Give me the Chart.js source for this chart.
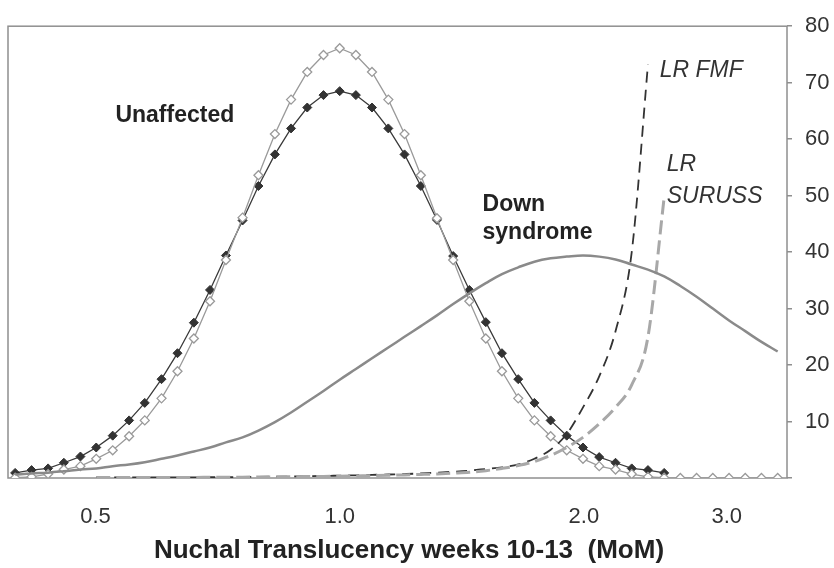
<!DOCTYPE html>
<html>
<head>
<meta charset="utf-8">
<title>Nuchal translucency distributions</title>
<script src="https://cdn.jsdelivr.net/npm/chart.js@4/dist/chart.umd.min.js"></script>
<style>
  html, body { margin: 0; padding: 0; background: #fff; }
  #wrap { width: 834px; height: 568px; }
</style>
</head>
<body>
<div id="wrap"><canvas id="ntChart" width="834" height="568"></canvas></div>
<script>
// NT in MoM, sampled every 0.02 on a log10 scale
const mom = [0.398, 0.417, 0.437, 0.457, 0.479, 0.501, 0.525, 0.550, 0.575, 0.603,
             0.631, 0.661, 0.692, 0.724, 0.759, 0.794, 0.832, 0.871, 0.912, 0.955,
             1.000, 1.047, 1.096, 1.148, 1.202, 1.259, 1.318, 1.380, 1.445, 1.514,
             1.585, 1.660, 1.738, 1.820, 1.905, 1.995, 2.089, 2.188, 2.291, 2.399,
             2.512, 2.630, 2.754, 2.884, 3.020, 3.162, 3.311, 3.467];

// unaffected pregnancies, filled diamonds (stops at 2.51 MoM)
const unaffectedFilled = [0.9, 1.4, 1.7, 2.7, 3.8, 5.4, 7.5, 10.2, 13.3, 17.5,
                          22.1, 27.5, 33.3, 39.4, 45.6, 51.7, 57.3, 61.9, 65.6, 67.8,
                          68.5, 67.8, 65.6, 61.9, 57.3, 51.7, 45.7, 39.3, 33.3, 27.6,
                          22.1, 17.5, 13.3, 10.2, 7.5, 5.4, 3.7, 2.7, 1.7, 1.4, 0.9];

// unaffected pregnancies, open diamonds
const unaffectedOpen = [0.05, 0.2, 0.7, 1.5, 2.1, 3.4, 4.9, 7.4, 10.2, 14.1,
                        18.9, 24.7, 31.3, 38.6, 46.1, 53.6, 60.9, 67.0, 71.9, 74.9,
                        76.1, 74.9, 71.9, 67.0, 60.9, 53.6, 46.0, 38.6, 31.3, 24.7,
                        18.9, 14.1, 10.2, 7.4, 4.9, 3.4, 2.1, 1.5, 0.7, 0.2,
                        0.05, 0, 0, 0, 0, 0, 0, 0];

// Down syndrome pregnancies
const downSyndrome = [0.6, 0.8, 0.95, 1.2, 1.5, 1.7, 2.1, 2.4, 2.8, 3.4,
                      4.0, 4.7, 5.4, 6.3, 7.2, 8.4, 9.9, 11.6, 13.5, 15.4,
                      17.4, 19.3, 21.2, 23.1, 25.0, 26.9, 28.8, 30.8, 32.7, 34.5,
                      36.1, 37.3, 38.3, 38.9, 39.2, 39.4, 39.2, 38.7, 37.8, 36.9,
                      35.7, 34.0, 32.1, 30.0, 27.9, 26.0, 24.1, 22.4];

// likelihood ratios, FMF and SURUSS parameters
const lrFmf = [null, null, null, null, null, 0.1, 0.1, 0.1, 0.1, 0.1,
               0.1, 0.12, 0.14, 0.16, 0.18, 0.2, 0.23, 0.27, 0.31, 0.36,
               0.42, 0.48, 0.55, 0.62, 0.7, 0.8, 0.95, 1.1, 1.3, 1.6,
               1.9, 2.4, 3.4, 5.0, 7.8, 12.5, 18.0, 26.0, 40.0, 73.2,
               null, null, null, null, null, null, null, null];
const lrSuruss = [null, null, null, null, null, 0.1, 0.1, 0.1, 0.1, 0.1,
                  0.1, 0.1, 0.12, 0.13, 0.15, 0.17, 0.19, 0.22, 0.25, 0.28,
                  0.32, 0.37, 0.42, 0.48, 0.55, 0.63, 0.72, 0.85, 1.0, 1.3,
                  1.7, 2.2, 2.9, 4.0, 5.4, 7.2, 9.6, 12.5, 16.5, 25.0,
                  49.7, null, null, null, null, null, null, null];

const xTicks = [0.5, 1.0, 2.0, 3.0];
const xTitle = 'Nuchal Translucency weeks 10-13  (MoM)';

const FONT = "'Liberation Sans', Arial, sans-serif";

// pair each value with its MoM, dropping empty slots
function points(values) {
  return mom.map((m, i) => ({ x: m, y: values[i] }))
            .filter(p => p.y !== null && p.y !== undefined);
}

// frame round the plot, the curve labels and the x axis title
const chartText = {
  id: 'chartText',
  beforeDatasetsDraw(chart) {
    const a = chart.chartArea;
    const ctx = chart.ctx;
    ctx.save();
    ctx.strokeStyle = '#8f8f8f';
    ctx.lineWidth = 1.5;
    ctx.strokeRect(a.left, a.top, a.right - a.left, a.bottom - a.top);
    ctx.restore();
  },
  afterDraw(chart) {
    const ctx = chart.ctx;
    const xs = chart.scales.x;
    const ys = chart.scales.y;
    const labels = [
      { text: 'Unaffected', x: 0.529, y: 64.1, style: 'bold' },
      { text: 'Down', x: 1.50, y: 48.4, style: 'bold' },
      { text: 'syndrome', x: 1.50, y: 43.4, style: 'bold' },
      { text: 'LR FMF', x: 2.48, y: 72.2, style: 'italic' },
      { text: 'LR', x: 2.53, y: 55.5, style: 'italic' },
      { text: 'SURUSS', x: 2.53, y: 49.8, style: 'italic' }
    ];
    ctx.save();
    ctx.textBaseline = 'middle';
    ctx.textAlign = 'left';
    labels.forEach(l => {
      ctx.font = l.style + ' 23px ' + FONT;
      ctx.fillStyle = l.style === 'bold' ? '#222' : '#333';
      ctx.fillText(l.text, xs.getPixelForValue(l.x), ys.getPixelForValue(l.y));
    });
    // axis title sits a little right of the plot centre
    ctx.font = 'bold 26px ' + FONT;
    ctx.fillStyle = '#222';
    ctx.textAlign = 'center';
    ctx.fillText(xTitle, 409, 551);
    ctx.restore();
  }
};

const ctx = document.getElementById('ntChart').getContext('2d');

new Chart(ctx, {
  type: 'line',
  data: {
    datasets: [
      {
        label: 'Down syndrome',
        data: points(downSyndrome),
        borderColor: '#8a8a8a',
        borderWidth: 2.5,
        pointRadius: 0,
        tension: 0.4
      },
      {
        label: 'LR SURUSS',
        data: points(lrSuruss),
        borderColor: '#a8a8a8',
        borderWidth: 3,
        borderDash: [14, 6],
        pointRadius: 0,
        cubicInterpolationMode: 'monotone'
      },
      {
        label: 'LR FMF',
        data: points(lrFmf),
        borderColor: '#333',
        borderWidth: 1.8,
        borderDash: [11, 7],
        pointRadius: 0,
        cubicInterpolationMode: 'monotone'
      },
      {
        label: 'Unaffected (open)',
        data: points(unaffectedOpen),
        borderColor: '#9a9a9a',
        borderWidth: 1.3,
        pointStyle: 'rectRot',
        pointRadius: 4.5,
        pointBorderWidth: 1.3,
        pointBorderColor: '#9a9a9a',
        pointBackgroundColor: '#fff',
        tension: 0
      },
      {
        label: 'Unaffected (filled)',
        data: points(unaffectedFilled),
        borderColor: '#3a3a3a',
        borderWidth: 1.3,
        pointStyle: 'rectRot',
        pointRadius: 4.5,
        pointBorderWidth: 1,
        pointBorderColor: '#333',
        pointBackgroundColor: '#333',
        tension: 0
      }
    ]
  },
  options: {
    responsive: false,
    animation: false,
    layout: { padding: { left: 8, top: 14, right: 0, bottom: 0 } },
    plugins: {
      legend: { display: false },
      tooltip: { enabled: false }
    },
    scales: {
      x: {
        type: 'logarithmic',
        bounds: 'data',
        min: 0.39,
        max: 3.56,
        grid: { display: false, drawTicks: false },
        border: { display: false },
        afterBuildTicks: (scale) => {
          scale.ticks = xTicks.map(v => ({ value: v }));
        },
        afterFit: (scale) => { scale.height = 90; },
        ticks: {
          padding: 26,
          maxRotation: 0,
          autoSkip: false,
          color: '#333',
          font: { family: FONT, size: 22 },
          callback: (v) => Number(v).toFixed(1)
        }
      },
      y: {
        position: 'right',
        min: 0,
        max: 80,
        grid: {
          display: true,
          drawOnChartArea: false,
          drawTicks: true,
          tickLength: 5,
          color: '#8f8f8f',
          lineWidth: 1.5
        },
        border: { display: false },
        afterFit: (scale) => { scale.width = 47; },
        ticks: {
          stepSize: 10,
          padding: 13,
          color: '#333',
          font: { family: FONT, size: 22 },
          callback: (v) => (v === 0 ? '' : v)
        }
      }
    }
  },
  plugins: [chartText]
});
</script>
</body>
</html>
